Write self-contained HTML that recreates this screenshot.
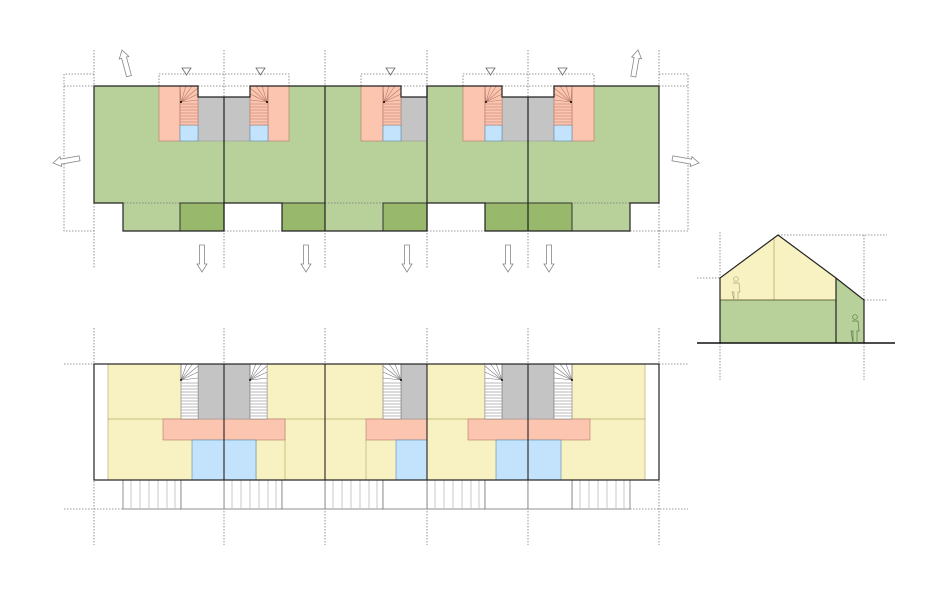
<!DOCTYPE html>
<html><head><meta charset="utf-8"><style>html,body{margin:0;padding:0;background:#fff}svg{display:block}</style></head>
<body>
<svg width="940" height="600" viewBox="0 0 940 600" xmlns="http://www.w3.org/2000/svg">
<defs>
<g id="arr"><polygon points="0,0 5,8 2.5,8 2.5,27 -2.5,27 -2.5,8 -5,8" fill="#fff" stroke="#888" stroke-width="0.8"/></g>
<g id="stR">
<rect x="0" y="0" width="18" height="39" fill="#fcc5b0" stroke="#b47a6a" stroke-width="0.6"/>
<g stroke="#b47a6a" stroke-width="0.6">
<line x1="1" y1="16" x2="0" y2="0"/><line x1="1" y1="16" x2="6" y2="0"/><line x1="1" y1="16" x2="12" y2="0"/><line x1="1" y1="16" x2="18" y2="2"/><line x1="1" y1="16" x2="18" y2="8"/><line x1="1" y1="16" x2="18" y2="14"/>
<line x1="0" y1="18" x2="18" y2="18"/><line x1="0" y1="21" x2="18" y2="21"/><line x1="0" y1="24" x2="18" y2="24"/><line x1="0" y1="27" x2="18" y2="27"/><line x1="0" y1="30" x2="18" y2="30"/><line x1="0" y1="33" x2="18" y2="33"/><line x1="0" y1="36" x2="18" y2="36"/>
</g>
<circle cx="1" cy="16" r="1" fill="#000"/>
</g>
<g id="stG">
<rect x="0" y="0" width="18" height="55" fill="#fff" stroke="#777" stroke-width="0.6"/>
<g stroke="#777" stroke-width="0.6">
<line x1="0" y1="16" x2="0" y2="0"/><line x1="0" y1="16" x2="6" y2="0"/><line x1="0" y1="16" x2="12" y2="0"/><line x1="0" y1="16" x2="18" y2="2"/><line x1="0" y1="16" x2="18" y2="8"/><line x1="0" y1="16" x2="18" y2="14"/>
<line x1="0" y1="19" x2="18" y2="19"/><line x1="0" y1="22" x2="18" y2="22"/><line x1="0" y1="25" x2="18" y2="25"/><line x1="0" y1="28" x2="18" y2="28"/><line x1="0" y1="31" x2="18" y2="31"/><line x1="0" y1="34" x2="18" y2="34"/><line x1="0" y1="37" x2="18" y2="37"/><line x1="0" y1="40" x2="18" y2="40"/><line x1="0" y1="43" x2="18" y2="43"/><line x1="0" y1="46" x2="18" y2="46"/><line x1="0" y1="49" x2="18" y2="49"/><line x1="0" y1="52" x2="18" y2="52"/>
</g>
<circle cx="0" cy="16" r="1" fill="#000"/>
</g>
<g id="hatch"><rect x="0" y="0" width="58" height="29" fill="#fff" stroke="#777" stroke-width="0.8"/>
<g stroke="#bbb" stroke-width="0.8"><line x1="8" y1="0" x2="8" y2="29"/><line x1="17" y1="0" x2="17" y2="29"/><line x1="26" y1="0" x2="26" y2="29"/><line x1="35" y1="0" x2="35" y2="29"/><line x1="44" y1="0" x2="44" y2="29"/><line x1="52" y1="0" x2="52" y2="29"/></g></g>
</defs>

<!-- ===== TOP PLAN ===== -->
<g stroke="#777" stroke-width="0.8" stroke-dasharray="1.5,1.5" fill="none">
<line x1="94" y1="50" x2="94" y2="268"/><line x1="224" y1="50" x2="224" y2="268"/><line x1="325" y1="50" x2="325" y2="268"/><line x1="427" y1="50" x2="427" y2="268"/><line x1="528" y1="50" x2="528" y2="268"/><line x1="659" y1="50" x2="659" y2="268"/>
<polyline points="94,74 64,74 64,231 94,231"/><line x1="64" y1="86" x2="94" y2="86"/>
<polyline points="659,74 688,74 688,231 659,231"/><line x1="659" y1="86" x2="688" y2="86"/>
<polyline points="159,86 159,74 289,74 289,86"/>
<polyline points="361,86 361,74 427,74 427,86"/>
<polyline points="463,86 463,74 594,74 594,86"/>
<line x1="198" y1="86" x2="250" y2="86"/><line x1="401" y1="86" x2="427" y2="86"/><line x1="502" y1="86" x2="554" y2="86"/>
<line x1="224" y1="231" x2="282" y2="231"/><line x1="427" y1="231" x2="485" y2="231"/><line x1="630" y1="231" x2="659" y2="231"/>
</g>
<polygon points="94,86 198,86 198,97 250,97 250,86 401,86 401,97 427,97 427,86 502,86 502,97 554,97 554,86 659,86 659,203 630,203 630,231 485,231 485,203 427,203 427,231 282,231 282,203 224,203 224,231 123,231 123,203 94,203" fill="#b8d09a"/>
<line x1="94" y1="203" x2="659" y2="203" stroke="#777" stroke-width="0.8" stroke-dasharray="1.5,1.5"/>
<g fill="#98b86c" stroke="#333" stroke-width="1">
<rect x="180" y="203" width="44" height="28"/><rect x="282" y="203" width="43" height="28"/><rect x="383" y="203" width="44" height="28"/><rect x="485" y="203" width="43" height="28"/><rect x="528" y="203" width="44" height="28"/>
</g>
<g stroke="#b47a6a" stroke-width="0.6">
<rect x="159" y="86" width="21" height="55" fill="#fcc5b0"/><rect x="268" y="86" width="21" height="55" fill="#fcc5b0"/>
<rect x="361" y="86" width="22" height="55" fill="#fcc5b0"/>
<rect x="463" y="86" width="22" height="55" fill="#fcc5b0"/><rect x="572" y="86" width="22" height="55" fill="#fcc5b0"/>
</g>
<g fill="#c4c4c4" stroke="#999" stroke-width="0.6">
<rect x="198" y="97" width="52" height="44"/><rect x="401" y="97" width="26" height="44"/><rect x="502" y="97" width="52" height="44"/>
</g>
<g fill="#c2e3fb" stroke="#5a8ab0" stroke-width="0.6">
<rect x="180" y="125" width="18" height="16"/><rect x="250" y="125" width="18" height="16"/><rect x="383" y="125" width="18" height="16"/><rect x="485" y="125" width="17" height="16"/><rect x="554" y="125" width="18" height="16"/>
</g>
<g transform="translate(180,86)"><use href="#stR"/></g>
<g transform="translate(268,86) scale(-1,1)"><use href="#stR"/></g>
<g transform="translate(383,86)"><use href="#stR"/></g>
<g transform="translate(485,86) scale(0.95,1)"><use href="#stR"/></g>
<g transform="translate(572,86) scale(-1,1)"><use href="#stR"/></g>
<polygon points="94,86 198,86 198,97 250,97 250,86 401,86 401,97 427,97 427,86 502,86 502,97 554,97 554,86 659,86 659,203 630,203 630,231 485,231 485,203 427,203 427,231 282,231 282,203 224,203 224,231 123,231 123,203 94,203" fill="none" stroke="#222" stroke-width="1.2"/>
<g stroke="#222" stroke-width="1.2"><line x1="224" y1="97" x2="224" y2="231"/><line x1="325" y1="86" x2="325" y2="231"/><line x1="427" y1="86" x2="427" y2="231"/><line x1="528" y1="97" x2="528" y2="231"/></g>
<g fill="#fff" stroke="#666" stroke-width="0.8">
<polygon points="182,68 191,68 186.5,75"/><polygon points="256,68 265,68 260.5,75"/><polygon points="386,68 395,68 390.5,75"/><polygon points="486,68 495,68 490.5,75"/><polygon points="558,68 567,68 562.5,75"/>
</g>
<use href="#arr" transform="translate(122,50) rotate(-15)"/>
<use href="#arr" transform="translate(638,50) rotate(10)"/>
<use href="#arr" transform="translate(53,163) rotate(-100)"/>
<use href="#arr" transform="translate(699,163) rotate(100)"/>
<use href="#arr" transform="translate(202,272) rotate(180)"/>
<use href="#arr" transform="translate(306,272) rotate(180)"/>
<use href="#arr" transform="translate(407,272) rotate(180)"/>
<use href="#arr" transform="translate(508,272) rotate(180)"/>
<use href="#arr" transform="translate(549,272) rotate(180)"/>

<!-- ===== BOTTOM PLAN ===== -->
<g stroke="#777" stroke-width="0.8" stroke-dasharray="1.5,1.5" fill="none">
<line x1="94" y1="328" x2="94" y2="545"/><line x1="224" y1="328" x2="224" y2="545"/><line x1="325" y1="328" x2="325" y2="545"/><line x1="427" y1="328" x2="427" y2="545"/><line x1="528" y1="328" x2="528" y2="545"/><line x1="659" y1="328" x2="659" y2="545"/>
<line x1="64" y1="364" x2="94" y2="364"/><line x1="659" y1="364" x2="688" y2="364"/>
<line x1="64" y1="509" x2="123" y2="509"/><line x1="630" y1="509" x2="688" y2="509"/>
</g>
<rect x="108" y="364" width="537" height="116" fill="#f8f2c2"/>
<g stroke="#b8ad6a" stroke-width="0.7" fill="none">
<line x1="108" y1="419" x2="645" y2="419"/>
<line x1="285" y1="419" x2="285" y2="480"/><line x1="366" y1="440" x2="366" y2="480"/><line x1="256" y1="440" x2="256" y2="480"/>
<line x1="589" y1="419" x2="589" y2="440"/><line x1="645" y1="364" x2="645" y2="480"/><line x1="108" y1="364" x2="108" y2="480"/>
</g>
<g fill="#fcc5b0" stroke="#b47a6a" stroke-width="0.6">
<rect x="163" y="419" width="122" height="21"/><rect x="366" y="419" width="61" height="21"/><rect x="468" y="419" width="122" height="21"/>
</g>
<g fill="#c2e3fb" stroke="#5a8ab0" stroke-width="0.6">
<rect x="192" y="440" width="64" height="40"/><rect x="396" y="440" width="31" height="40"/><rect x="496" y="440" width="65" height="40"/>
</g>
<g fill="#c4c4c4" stroke="#999" stroke-width="0.6">
<rect x="198" y="364" width="52" height="55"/><rect x="401" y="364" width="26" height="55"/><rect x="502" y="364" width="52" height="55"/>
</g>
<g transform="translate(181,364) scale(0.95,1)"><use href="#stG"/></g>
<g transform="translate(250,364) scale(0.95,1)"><use href="#stG"/></g>
<g transform="translate(401,364) scale(-1,1)"><use href="#stG"/></g>
<g transform="translate(502,364) scale(-0.95,1)"><use href="#stG"/></g>
<g transform="translate(572,364) scale(-1,1)"><use href="#stG"/></g>
<use href="#hatch" transform="translate(123,480)"/>
<use href="#hatch" transform="translate(224,480)"/>
<use href="#hatch" transform="translate(325,480)"/>
<use href="#hatch" transform="translate(427,480)"/>
<use href="#hatch" transform="translate(572,480)"/>
<g fill="#fff" stroke="#777" stroke-width="0.8">
<rect x="181" y="480" width="43" height="29"/><rect x="282" y="480" width="43" height="29"/><rect x="383" y="480" width="44" height="29"/><rect x="485" y="480" width="43" height="29"/><rect x="528" y="480" width="44" height="29"/>
</g>
<rect x="94" y="364" width="565" height="116" fill="none" stroke="#222" stroke-width="1.2"/>
<g stroke="#222" stroke-width="1.1"><line x1="224" y1="364" x2="224" y2="480"/><line x1="325" y1="364" x2="325" y2="480"/><line x1="427" y1="364" x2="427" y2="480"/><line x1="528" y1="364" x2="528" y2="480"/></g>

<!-- ===== SECTION ===== -->
<g stroke="#777" stroke-width="0.8" stroke-dasharray="1.5,1.5" fill="none">
<line x1="720" y1="232" x2="720" y2="380"/><line x1="864" y1="235" x2="864" y2="380"/>
<line x1="778" y1="235" x2="887" y2="235"/><line x1="864" y1="300" x2="887" y2="300"/><line x1="697" y1="278" x2="720" y2="278"/>
</g>
<polygon points="720,278 778,235 836,278 836,300 720,300" fill="#f8f2c2"/>
<rect x="720" y="300" width="116" height="43" fill="#b8d09a"/>
<polygon points="836,278 864,300 864,343 836,343" fill="#b8d09a"/>
<g stroke="#b8ad6a" stroke-width="0.8"><line x1="774" y1="238" x2="774" y2="300"/></g>
<line x1="720" y1="300" x2="836" y2="300" stroke="#6a6a3a" stroke-width="0.9"/>
<polyline points="720,343 720,278 778,235 836,278 864,300 864,343" fill="none" stroke="#222" stroke-width="1.2"/>
<line x1="836" y1="278" x2="836" y2="343" stroke="#222" stroke-width="1.2"/>
<line x1="697" y1="343" x2="895" y2="343" stroke="#111" stroke-width="1.6"/>
<g fill="none" stroke="#a8a870" stroke-width="0.7">
<circle cx="736" cy="279" r="2.3"/><path d="M733,283 L739,283 L740,292 L738,292 L738,300 M734,300 L734,292 L732,292 Z"/>
</g>
<g fill="none" stroke="#5a7a4a" stroke-width="0.7">
<circle cx="855" cy="317" r="2.3"/><path d="M852,321 L858,321 L859,331 L857,331 L857,343 M853,343 L853,331 L851,331 Z"/>
</g>
</svg>
</body></html>
